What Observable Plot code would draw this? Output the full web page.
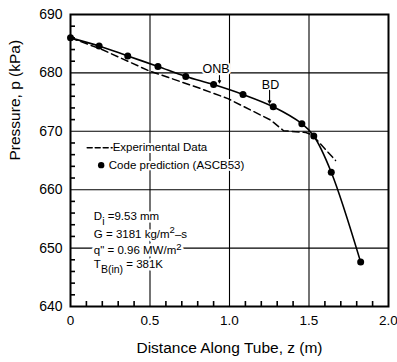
<!DOCTYPE html>
<html><head><meta charset="utf-8">
<script src="https://cdn.jsdelivr.net/npm/d3@7"></script>
<script src="https://cdn.jsdelivr.net/npm/@observablehq/plot@0.6"></script>
<style>body{margin:0;background:#fff}</style>
</head><body><div id="chart"></div>
<script>
// Code prediction (ASCB53)
const codeZ = [0, 0.18, 0.36, 0.55, 0.725, 0.90, 1.085, 1.275, 1.455, 1.53, 1.64, 1.825];
const codeP = [686.0, 684.6, 682.9, 681.1, 679.4, 678.0, 676.3, 674.2, 671.3, 669.2, 663.0, 647.6];
// Experimental data (dashed)
const expZ = [0, 0.19, 0.49, 0.82, 0.99, 1.26, 1.34, 1.48, 1.52, 1.667];
const expP = [686.0, 684.1, 680.4, 677.3, 675.6, 671.9, 670.1, 669.8, 669.4, 665.0];
// ticks
const xTicks = [0, 0.5, 1, 1.5, 2];
const yTicks = [640, 650, 660, 670, 680, 690];
const xGrid = [0.5, 1, 1.5];
const yGrid = [650, 660, 670, 680];
const xMinor = [0.1, 0.2, 0.3, 0.4, 0.6, 0.7, 0.8, 0.9, 1.1, 1.2, 1.3, 1.4, 1.6, 1.7, 1.8, 1.9];
const yMinor = [642, 644, 646, 648, 652, 654, 656, 658, 662, 664, 666, 668, 672, 674, 676, 678, 682, 684, 686, 688];
// texts
const xTitle = "Distance Along Tube, z (m)";
const yTitle = "Pressure, p (kPa)";
const legendNames = ["Experimental Data", "Code prediction (ASCB53)"];
const legendZ = [0.265, 0.241];
const legendP = [667.3, 664.2];
const legendDashZ = [0.105, 0.262];
const legendDashP = [667.2, 667.2];
const legendDotZ = [0.193];
const legendDotP = [664.2];
const noteLines = ["D{_i} =9.53 mm", "G = 3181 kg/m{^2}\u2013s", "q\" = 0.96 MW/m{^2}", "T{_B(in)} = 381K"];
const noteZ = [0.147, 0.147, 0.147, 0.147];
const noteP = [655.4, 652.4, 649.6, 647.2];
const eventNames = ["ONB", "BD"];
const eventZ = [0.915, 1.258];
const eventP = [680.75, 677.85];
const arrowZ = [0.937, 1.252];
const arrowP1 = [679.55, 677.0];
const arrowP2 = [678.3, 674.8];

const code = codeZ.map((z, i) => ({z, p: codeP[i]}));
const exp = expZ.map((z, i) => ({z, p: expP[i]}));
const legend = legendNames.map((t, i) => ({t, z: legendZ[i], p: legendP[i]}));
const legendDash = legendDashZ.map((z, i) => ({z, p: legendDashP[i]}));
const legendDot = legendDotZ.map((z, i) => ({z, p: legendDotP[i]}));
const notes = noteLines.map((t, i) => ({t, z: noteZ[i], p: noteP[i]}));
const events = eventNames.map((t, i) => ({t, z: eventZ[i], p: eventP[i]}));
const arrows = arrowZ.map((z, i) => ({z, p1: arrowP1[i], p2: arrowP2[i]}));

const font = "'Liberation Sans', Arial, Helvetica, sans-serif";

const chart = Plot.plot({
  width: 397, height: 362,
  marginLeft: 70, marginRight: 9, marginTop: 14, marginBottom: 56,
  x: {domain: [0, 2]},
  y: {domain: [640, 690]},
  style: {fontFamily: font, fontSize: "13px", background: "white", color: "black"},
  marks: [
    Plot.gridX(xGrid, {stroke: "black", strokeOpacity: 1, strokeWidth: 1.1}),
    Plot.gridY(yGrid, {stroke: "black", strokeOpacity: 1, strokeWidth: 1.1}),
    Plot.axisX(xMinor, {tickSize: -5, tickFormat: () => "", label: null, strokeWidth: 1.6}),
    Plot.axisY(yMinor, {tickSize: -5, tickFormat: () => "", label: null, strokeWidth: 1.6}),
    Plot.axisX(xTicks, {tickSize: 0, tickPadding: 9, label: null, fontSize: 13.5,
      tickFormat: d => d === 0 ? "0" : d.toFixed(1)}),
    Plot.axisY(yTicks, {tickSize: 0, tickPadding: 8, label: null, fontSize: 14}),
    Plot.text([xTitle], {text: d => d, frameAnchor: "bottom", dy: 46, fontSize: 15.5}),
    Plot.text([yTitle], {text: d => d, frameAnchor: "left", rotate: -90, dx: -55, fontSize: 15.5}),
    Plot.line(exp, {x: "z", y: "p", stroke: "black", strokeWidth: 1.5, strokeDasharray: "7,4"}),
    Plot.line(code, {x: "z", y: "p", stroke: "black", strokeWidth: 1.6, curve: "catmull-rom"}),
    Plot.dot(code, {x: "z", y: "p", r: 3.5, fill: "black"}),
    Plot.text(legend, {x: "z", y: "p", text: "t", textAnchor: "start", fontSize: 11.5, stroke: "white", strokeWidth: 4, fill: "black"}),
    Plot.text(notes, {x: "z", y: "p", text: "t", textAnchor: "start", fontSize: 11.5, stroke: "white", strokeWidth: 5, fill: "black"}),
    Plot.line(legendDash, {x: "z", y: "p", stroke: "black", strokeWidth: 1.5, strokeDasharray: "5,3"}),
    Plot.dot(legendDot, {x: "z", y: "p", r: 3.2, fill: "black"}),
    Plot.text(events, {x: "z", y: "p", text: "t", fontSize: 12.5, stroke: "white", strokeWidth: 4, fill: "black"}),
    Plot.arrow(arrows, {x: "z", y1: "p1", y2: "p2", stroke: "black", strokeWidth: 1.1, headLength: 4, headAngle: 55}),
    Plot.frame({stroke: "black", strokeWidth: 2})
  ]
});

// rich text: sub/superscripts
d3.select(chart).selectAll("text").each(function() {
  const el = d3.select(this);
  const s = el.text();
  if (!/\{[_^]/.test(s)) return;
  el.text(null);
  const re = /\{([_^])([^}]*)\}/g;
  let last = 0, m, shift = 0;
  const add = (txt, kind) => {
    const ts = el.append("tspan").text(txt);
    const target = kind === "_" ? 4.5 : kind === "^" ? -4.5 : 0;
    if (target !== shift) { ts.attr("dy", target - shift); shift = target; }
    if (kind) ts.attr("font-size", kind === "_" ? 10.5 : 9.5);
  };
  while ((m = re.exec(s))) {
    if (m.index > last) add(s.slice(last, m.index), null);
    add(m[2], m[1]);
    last = re.lastIndex;
  }
  if (last < s.length) add(s.slice(last), null);
});

// halos: draw the white knockout as a separate copy behind each haloed text
d3.select(chart).selectAll("text").each(function() {
  const g = this.closest("g[stroke]");
  if (!g || g.getAttribute("stroke") !== "white") return;
  const halo = this.cloneNode(true);
  halo.setAttribute("fill", "white");
  halo.setAttribute("stroke", "white");
  this.parentNode.insertBefore(halo, this);
  this.setAttribute("stroke", "none");
});

document.getElementById("chart").appendChild(chart);
</script>
</body></html>
